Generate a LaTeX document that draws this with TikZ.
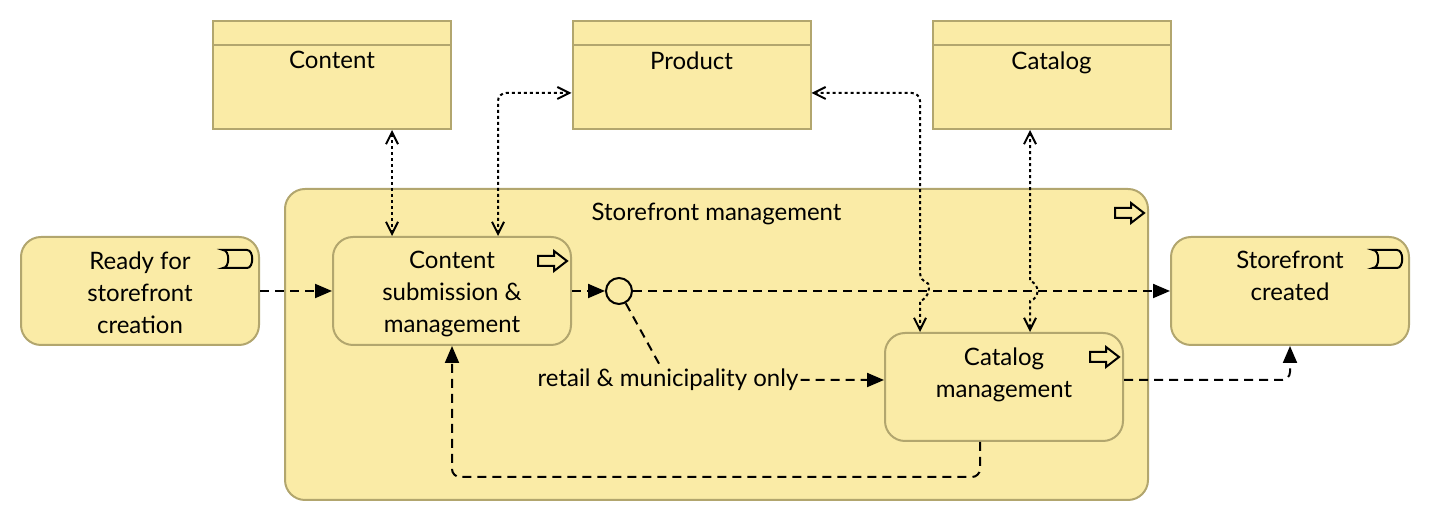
\documentclass[tikz,border=0pt]{standalone}
\usepackage{fontspec}
\setmainfont{Lato}
\usepackage{tikz}
\usetikzlibrary{arrows.meta,calc}
\definecolor{sfill}{RGB}{250,235,166}
\definecolor{sline}{RGB}{178,166,110}
\newcommand{\bw}{119pt}
\newcommand{\bh}{54pt}
% process arrow, drawn from the north east corner of a box
\newcommand{\procicon}[1]{%
  \begin{scope}[shift={(#1)}]
    \draw[icon] (-34,20) -- (-18,20) -- (-18,15) -- (-5,25) -- (-18,35) -- (-18,30) -- (-34,30) -- cycle;
  \end{scope}}
% event flag, drawn from the north east corner of a box
\newcommand{\evicon}[1]{%
  \begin{scope}[shift={(#1)}]
    \draw[icon] (-37,14) -- (-13,14) .. controls (-6,14) and (-6,32) .. (-13,32) -- (-37,32) .. controls (-30,32) and (-30,14) .. (-37,14) -- cycle;
  \end{scope}}

\begin{document}
\begin{tikzpicture}[x=0.5pt,y=-0.5pt,font=\fontsize{12}{16}\selectfont]
                %\draw[help lines] (0,0) grid[step=50] (1430,522);
                \useasboundingbox (0,0) rectangle (1430,522);
                \tikzset{
                  box/.style = {draw=sline, fill=sfill, line width=1pt, rounded corners=10pt,
                                minimum width=\bw, minimum height=\bh, inner sep=0pt},
                  dobj/.style = {box, rounded corners=0pt,
                                path picture={\draw[sline, line width=1pt]
                                  ([yshift=-12pt]path picture bounding box.north west) --
                                  ([yshift=-12pt]path picture bounding box.north east);}},
                  lbl/.style = {align=center, inner sep=0pt, anchor=north},
                  ttl/.style = {label={[lbl, label distance=-7.5pt]north:#1}},
                  dttl/.style = {label={[lbl, label distance=-15.5pt]north:#1}},
                  icon/.style = {draw=black, fill=none, line width=1pt},
                  flow/.style = {line width=1pt, dash pattern=on 4.5pt off 3pt, -{Triangle[length=8.5pt,width=7pt]}},
                  assoc/.style = {line width=1pt, dash pattern=on 1.5pt off 1.5pt,
                                  {Straight Barb[length=6pt,width=6pt]}-{Straight Barb[length=6pt,width=6pt]}}
                }
                % data objects
                \node[dobj, dttl=Content] (dcont) at (332,75) {};
                \node[dobj, dttl=Product] (dprod) at (691.5,75) {};
                \node[dobj, dttl=Catalog] (dcat) at (1051.5,75) {};
                % group
                \node[box, minimum width=431.5pt, minimum height=155.5pt, ttl={Storefront management}] (grp) at (716.5,344.5) {};
                \procicon{grp.north east}
                % events and processes
                \node[box, ttl={Ready for\\storefront\\creation}] (rfc) at (140,291) {};
                \evicon{rfc.north east}
                \node[box, ttl={Content\\submission \&\\management}] (csm) at (452,291) {};
                \procicon{csm.north east}
                \node[box, ttl={Catalog\\management}] (catm) at (1004,387) {};
                \procicon{catm.north east}
                \node[box, ttl={Storefront\\created}] (sfc) at (1290,291) {};
                \evicon{sfc.north east}
                \node[circle, draw=black, fill=sfill, line width=1pt, minimum size=13pt, inner sep=0pt] (jn) at (619,291) {};
                \node[inner sep=1pt] (rmo) at (668,380) {retail \& municipality only};
                % flows
                \draw[flow] (rfc) -- (csm);
                \draw[flow] (csm) -- (jn);
                \draw[flow] (jn) -- (sfc);
                \draw[flow] (jn) -- (rmo) -- (rmo -| catm.west);
                \draw[flow, rounded corners=4pt] (catm.east |- rmo) -| (sfc.south);
                \draw[flow, rounded corners=4pt] ([xshift=-12pt]catm.south) -- ++(0,35) -| (csm.south);
                % associations
                \coordinate (a1) at ([xshift=-30pt]csm.north);
                \coordinate (a2) at ([xshift=23pt]csm.north);
                \coordinate (a3) at ([xshift=-42pt]catm.north);
                \coordinate (a4) at ([xshift=13pt]catm.north);
                \coordinate (b3) at ([yshift=-9pt]dprod.east);
                \coordinate (h3) at (a3 |- jn);
                \coordinate (h4) at (a4 |- jn);
                \draw[assoc] (a1) -- (a1 |- dcont.south);
                \draw[assoc, rounded corners=4pt] (a2) |- ([yshift=-9pt]dprod.west);
                \draw[assoc] (b3) [rounded corners=4pt] -| ($(h3)+(0,-10)$) [sharp corners]
                  .. controls +(10,3) and +(10,-3) .. ($(h3)+(0,10)$) -- (a3);
                \draw[assoc] (a4 |- dcat.south) -- ($(h4)+(0,-10)$)
                  .. controls +(10,3) and +(10,-3) .. ($(h4)+(0,10)$) -- (a4);
\end{tikzpicture}
\end{document}
